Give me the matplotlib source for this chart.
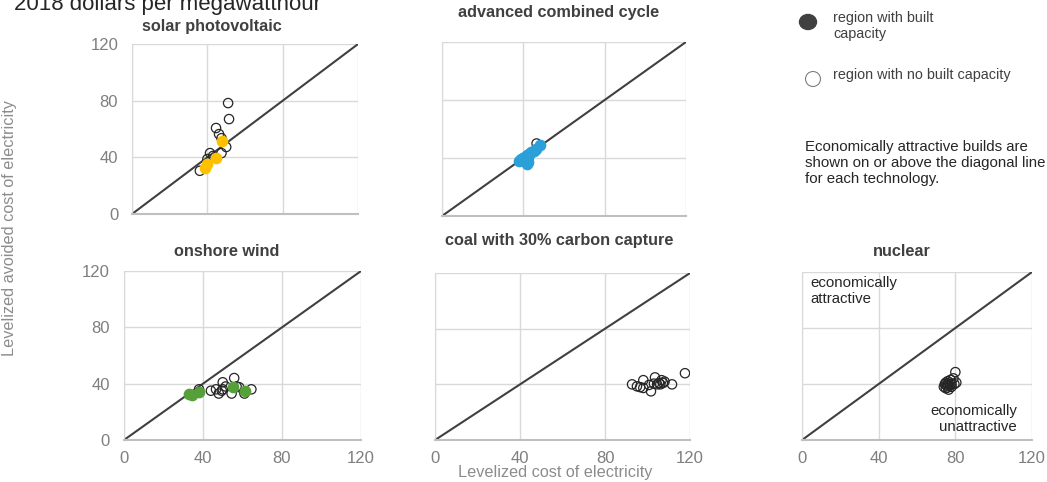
import matplotlib.pyplot as plt
from matplotlib.patches import Ellipse

plt.rcParams['font.family'] = ['Liberation Sans', 'DejaVu Sans']

# levelized cost (x) vs levelized avoided cost (y), 2018 $/MWh
solar_open_x = [51, 51.5, 44.6, 46.2, 47.5, 50, 47.5, 41.4, 40, 36, 43]
solar_open_y = [78.3, 67, 60.7, 56.4, 53.5, 47.3, 43, 43, 38.8, 30.5, 41]
solar_built_x = [48, 44.6, 39.7, 38.5]
solar_built_y = [51.5, 39.5, 35, 32.5]

acc_open_x = [46.5]
acc_open_y = [50]
acc_built_x = [38, 39, 39.5, 40, 40.5, 41, 42, 42.5, 43, 44, 45, 42, 42.5, 48, 46]
acc_built_y = [38, 39, 38.5, 40, 39.5, 41, 42, 41, 43, 44, 45, 36, 37.5, 49, 46.5]

wind_open_x = [38, 44, 46.6, 50, 48, 49.5, 50, 55.8, 54.5, 58.3, 61, 64.5, 51.5, 57]
wind_open_y = [36, 35, 36, 41, 33, 35, 36, 44, 33, 37.5, 33, 36, 38, 38]
wind_built_x = [33, 34.3, 38, 55.3, 61.5]
wind_built_y = [33, 32, 34, 37.5, 35]

coal_open_x = [92.7, 95, 96.5, 98, 98, 101.6, 100.7, 103.5, 104.5, 105.4, 106.6, 107.3, 106, 111.5, 117.6, 103, 108]
coal_open_y = [40, 38.6, 38, 43, 37.4, 35, 39.6, 45, 40, 41, 43, 41, 40, 40, 48, 40.5, 42]

nuc_open_x = [74, 74.5, 75, 75, 75.5, 76, 76, 76.5, 77, 77, 77.5, 78, 78, 79, 80, 80.5, 79.5, 76]
nuc_open_y = [38, 40, 41, 37, 39, 42, 40, 36, 39, 41, 43, 40, 38, 44, 48.5, 41, 40, 37.5]

ticks = [0, 40, 80, 120]

W, H = 1047, 482
fig = plt.figure(figsize=(10.47, 4.82), dpi=100)

def px(x, y):
    return x / W, 1 - y / H

def panel(rect, title, title_xy, open_x, open_y, built_x, built_y, color, show_x, show_y):
    ax = fig.add_axes(rect)
    ax.set_xlim(0, 120)
    ax.set_ylim(0, 120)
    ax.set_xticks(ticks)
    ax.set_yticks(ticks)
    ax.grid(True, color='#d9d9d9', lw=1)
    ax.set_axisbelow(True)
    for s in ['top', 'right']:
        ax.spines[s].set_visible(False)
    ax.spines['left'].set_color('#d9d9d9')
    ax.spines['bottom'].set_color('#bfbfbf')
    ax.spines['bottom'].set_linewidth(1.5)
    ax.tick_params(length=0, labelsize=12, labelcolor='#7f7f7f')
    ax.tick_params(axis='y', pad=10)
    ax.tick_params(axis='x', pad=8)
    if not show_x:
        ax.set_xticklabels([])
    if not show_y:
        ax.set_yticklabels([])
    ax.plot([0, 120], [0, 120], color='#404040', lw=1.5, zorder=2)
    ax.scatter(open_x, open_y, s=45, facecolor='none', edgecolor='#262626', lw=0.9, zorder=3)
    if built_x:
        ax.scatter(built_x, built_y, s=55, color=color, zorder=4)
    fig.text(*px(*title_xy), title, ha='center', va='center',
             fontsize=11.7, fontweight='bold', color='#404040')
    return ax

panel([0.1261, 0.556, 0.2159, 0.3527], 'solar photovoltaic', (212, 27),
      solar_open_x, solar_open_y, solar_built_x, solar_built_y, '#ffc000', False, True)
panel([0.4222, 0.5519, 0.233, 0.361], 'advanced combined cycle', (559, 12),
      acc_open_x, acc_open_y, acc_built_x, acc_built_y, '#2a9fd8', False, False)
panel([0.1184, 0.0871, 0.2264, 0.3506], 'onshore wind', (227, 252),
      wind_open_x, wind_open_y, wind_built_x, wind_built_y, '#56a03a', True, True)
panel([0.4155, 0.0871, 0.2436, 0.3465], 'coal with 30% carbon capture', (559, 240),
      coal_open_x, coal_open_y, [], [], None, True, False)
panel([0.766, 0.0871, 0.2197, 0.3486], 'nuclear', (902, 251),
      nuc_open_x, nuc_open_y, [], [], None, True, False)

fig.text(*px(810, 291), 'economically\nattractive', ha='left', va='center', fontsize=10.8,
         color='#262626', linespacing=1.2)
fig.text(*px(1017, 419), 'economically\nunattractive', ha='right', va='center', fontsize=10.8,
         color='#262626', linespacing=1.2, multialignment='right')

# headline, partly cut off at the top edge
fig.text(*px(14, 10), '2018 dollars per megawatthour', ha='left',
         va='baseline', fontsize=16, color='#262626')
fig.text(*px(10, 228), 'Levelized avoided cost of electricity', rotation=90,
         ha='center', va='center', fontsize=11.7, color='#8c8c8c')
fig.text(*px(555, 472), 'Levelized cost of electricity', ha='center',
         va='center', fontsize=11.7, color='#8c8c8c')

# legend / notes
fig.add_artist(Ellipse(px(808, 22), 17 / W, 15 / H, transform=fig.transFigure, color='#404040'))
fig.add_artist(Ellipse(px(813, 79), 15 / W, 15 / H, transform=fig.transFigure,
                       facecolor='white', edgecolor='#7f7f7f', lw=0.8))
fig.text(*px(833, 26), 'region with built\ncapacity', ha='left', va='center',
         fontsize=10.4, color='#404040', linespacing=1.2)
fig.text(*px(833, 75), 'region with no built capacity', ha='left', va='center',
         fontsize=10.4, color='#404040')
fig.text(*px(805, 163),
         'Economically attractive builds are\nshown on or above the diagonal line\nfor each technology.',
         ha='left', va='center', fontsize=10.8, color='#262626', linespacing=1.2)

fig.savefig('out.png', dpi=100)
